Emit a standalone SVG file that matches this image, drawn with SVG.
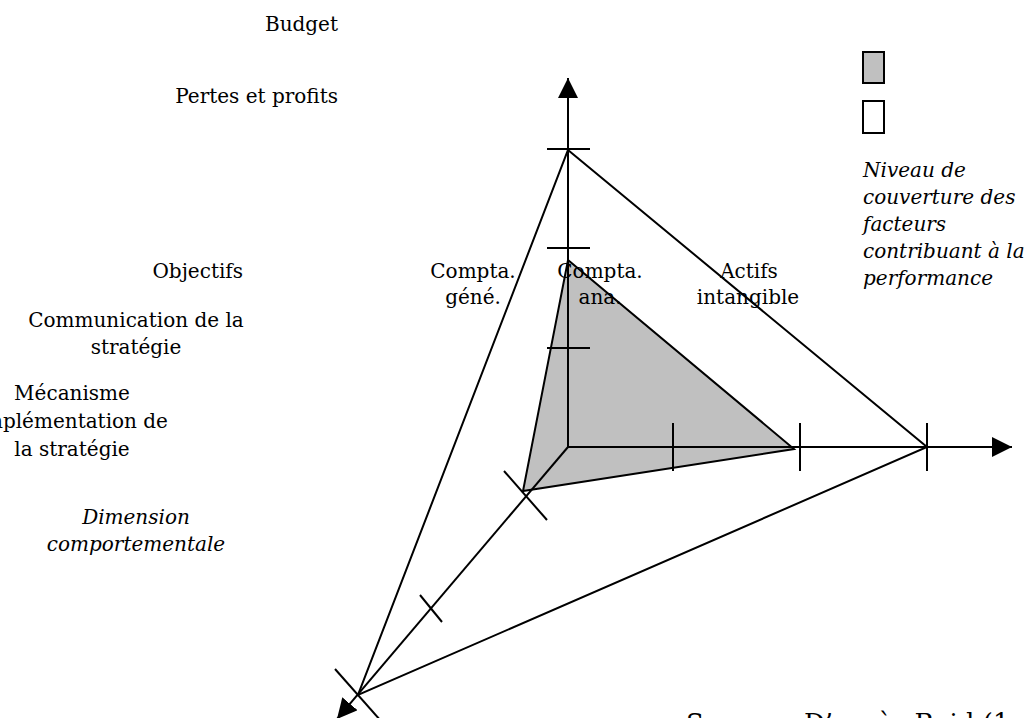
<svg xmlns="http://www.w3.org/2000/svg" width="1025" height="718" viewBox="0 0 1025 718">
<style>
.t{font-family:"DejaVu Serif","Liberation Serif",serif;font-size:20px;fill:#000}
.i{font-style:italic}
.m{text-anchor:middle}
.e{text-anchor:end}
.ln{stroke:#000;stroke-width:2;fill:none}
</style>
<defs>
<marker id="arr" markerUnits="userSpaceOnUse" markerWidth="22" markerHeight="22" refX="20" refY="10" orient="auto">
<path d="M0,0 L20,10 L0,20 Z" fill="#000"/>
</marker>
</defs>
<rect width="1025" height="718" fill="#fff"/>
<g id="inner-triangle">
<polygon points="568,260 794,449 523,491" fill="#c0c0c0" stroke="#000" stroke-width="2"/>
</g>
<g id="labels-left">
<text class="t e" x="338" y="31">Budget</text>
<text class="t e" x="338" y="103">Pertes et profits</text>
<text class="t e" x="243" y="278">Objectifs</text>
<text class="t m" x="136" y="327">Communication de la</text>
<text class="t m" x="136" y="354">stratégie</text>
<text class="t m" x="72" y="400">Mécanisme</text>
<text class="t m" x="72" y="428">Implémentation de</text>
<text class="t m" x="72" y="456">la stratégie</text>
<text class="t i m" x="136" y="524">Dimension</text>
<text class="t i m" x="136" y="551">comportementale</text>
</g>
<g id="labels-axes">
<text class="t m" x="473" y="278">Compta.</text>
<text class="t m" x="473" y="304">géné.</text>
<text class="t m" x="600" y="278">Compta.</text>
<text class="t m" x="600" y="304">ana.</text>
<text class="t m" x="749" y="278">Actifs</text>
<text class="t m" x="748" y="304">intangible</text>
</g>
<g id="connectors">
<line class="ln" x1="568" y1="448" x2="568" y2="78" marker-end="url(#arr)"/>
<line class="ln" x1="567" y1="447" x2="1012" y2="447" marker-end="url(#arr)"/>
<line class="ln" x1="568" y1="447" x2="337" y2="719" marker-end="url(#arr)"/>
<polygon class="ln" points="568,150 927,447 358,695"/>
<line class="ln" x1="547" y1="149" x2="590" y2="149"/>
<line class="ln" x1="547" y1="248" x2="590" y2="248"/>
<line class="ln" x1="547" y1="348" x2="590" y2="348"/>
<line class="ln" x1="673" y1="423" x2="673" y2="471"/>
<line class="ln" x1="800" y1="423" x2="800" y2="471"/>
<line class="ln" x1="927" y1="423" x2="927" y2="471"/>
<line class="ln" x1="504" y1="471" x2="547" y2="520"/>
<line class="ln" x1="420" y1="595" x2="442" y2="622"/>
<line class="ln" x1="335" y1="669" x2="381" y2="721"/>
</g>
<g id="legend">
<rect x="863" y="52" width="21" height="31" fill="#c0c0c0" stroke="#000" stroke-width="2"/>
<rect x="863" y="101" width="21" height="32" fill="#fff" stroke="#000" stroke-width="2"/>
<text class="t i" x="863" y="177">Niveau de</text>
<text class="t i" x="863" y="204">couverture des</text>
<text class="t i" x="863" y="231">facteurs</text>
<text class="t i" x="863" y="258">contribuant à la</text>
<text class="t i" x="863" y="285">performance</text>
</g>
<g id="source">
<text class="t" x="686" y="732" style="font-size:26px">Source : D’après Reid (1</text>
</g>
</svg>
